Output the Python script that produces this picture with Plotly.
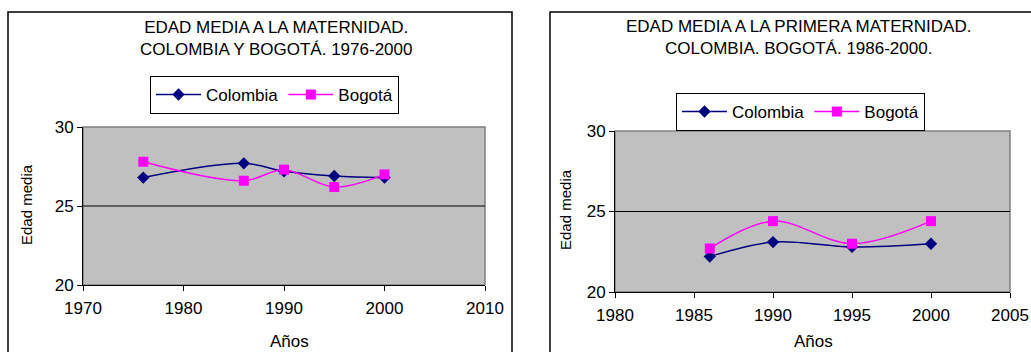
import plotly.graph_objects as go

# Chart 1: mean age at maternity, 1976-2000
years_1 = [1976, 1986, 1990, 1995, 2000]
colombia_1 = [26.8, 27.7, 27.2, 26.9, 26.8]
bogota_1 = [27.8, 26.6, 27.3, 26.2, 27.0]

# Chart 2: mean age at first maternity, 1986-2000
years_2 = [1986, 1990, 1995, 2000]
colombia_2 = [22.2, 23.1, 22.8, 23.0]
bogota_2 = [22.7, 24.4, 23.0, 24.4]

title_1 = "EDAD MEDIA A LA MATERNIDAD.<br>COLOMBIA Y BOGOTÁ. 1976-2000"
title_2 = "EDAD MEDIA A LA PRIMERA MATERNIDAD.<br>COLOMBIA. BOGOTÁ. 1986-2000."

W, H = 1031, 352
FONT = "Arial, Liberation Sans, sans-serif"
NAVY = "#000080"
MAGENTA = "#FF00FF"


def px(x):
    return x / W


def py(y):
    return 1 - y / H


fig = go.Figure()


def add_series(x, y, name, color, symbol, size, xa, ya, legend):
    fig.add_trace(go.Scatter(
        x=x, y=y, name=name, mode="lines+markers",
        line=dict(color=color, width=1.5, shape="spline", smoothing=1),
        marker=dict(symbol=symbol, size=size, color=color),
        xaxis=xa, yaxis=ya, legend=legend,
    ))


add_series(years_1, colombia_1, "Colombia", NAVY, "diamond", 9.5, "x", "y", "legend")
add_series(years_1, bogota_1, "Bogotá", MAGENTA, "square", 10, "x", "y", "legend")
add_series(years_2, colombia_2, "Colombia", NAVY, "diamond", 9.5, "x2", "y2", "legend2")
add_series(years_2, bogota_2, "Bogotá", MAGENTA, "square", 10, "x2", "y2", "legend2")

xcommon = dict(showgrid=False, zeroline=False, showline=True, linecolor="black",
               linewidth=1, ticks="outside", ticklen=5, tickcolor="black",
               tickfont=dict(family=FONT, size=17, color="black"),
               ticklabelstandoff=3, automargin=False)
ycommon = dict(showgrid=False, zeroline=False, showline=True, linecolor="black",
               linewidth=1, ticks="outside", ticklen=5, tickcolor="black",
               tickfont=dict(family=FONT, size=17, color="black"),
               range=[20, 30], tickvals=[20, 25, 30], automargin=False)

legend_common = dict(orientation="h", xanchor="left", yanchor="top",
                     bgcolor="white", bordercolor="black", borderwidth=1,
                     font=dict(family=FONT, size=17, color="black"),
                     itemwidth=45, tracegroupgap=0)

fig.update_layout(
    template="none",
    width=W, height=H, margin=dict(l=0, r=0, t=0, b=0, pad=0, autoexpand=False),
    paper_bgcolor="white", plot_bgcolor="#C0C0C0",
    font=dict(family=FONT, color="black"),
    xaxis=dict(domain=[px(83), px(485)], range=[1970, 2010], tickvals=[1970, 1980, 1990, 2000, 2010],
               anchor="y", **xcommon),
    yaxis=dict(domain=[py(285), py(127)], anchor="x", **ycommon),
    xaxis2=dict(domain=[px(615), px(1010)], range=[1980, 2005], tickvals=[1980, 1985, 1990, 1995, 2000, 2005],
                anchor="y2", **xcommon),
    yaxis2=dict(domain=[py(292), py(131)], anchor="x2", **ycommon),
    legend=dict(x=px(150), y=py(76), **legend_common),
    legend2=dict(x=px(676), y=py(93), **legend_common),
)

shapes = []
# outer chart frames
for x0, x1 in [(8, 512), (550, 1045)]:
    shapes.append(dict(type="rect", xref="paper", yref="paper",
                       x0=px(x0), x1=px(x1), y0=py(370), y1=py(12),
                       line=dict(color="black", width=1.5), layer="below"))
# plot area borders and the 25 gridline
for xa, ya in [("x", "y"), ("x2", "y2")]:
    shapes.append(dict(type="rect", xref=f"{xa} domain", yref=f"{ya} domain",
                       x0=0, x1=1, y0=0, y1=1,
                       line=dict(color="#808080", width=1.5), layer="below"))
    shapes.append(dict(type="line", xref=f"{xa} domain", yref=ya,
                       x0=0, x1=1, y0=25, y1=25,
                       line=dict(color="black", width=1), layer="below"))
fig.update_layout(shapes=shapes)

ann = []
for text, x, y in [(title_1, 276, 38.5), (title_2, 798, 37)]:
    ann.append(dict(text=text, xref="paper", yref="paper", x=px(x), y=py(y),
                    xanchor="center", yanchor="middle", showarrow=False,
                    font=dict(family=FONT, size=17, color="black")))
for x, y in [(289, 341), (813, 341)]:
    ann.append(dict(text="Años", xref="paper", yref="paper", x=px(x), y=py(y),
                    xanchor="center", yanchor="middle", showarrow=False,
                    font=dict(family=FONT, size=17, color="black")))
for x, y in [(26, 205), (565, 210)]:
    ann.append(dict(text="Edad media", xref="paper", yref="paper", x=px(x), y=py(y),
                    xanchor="center", yanchor="middle", showarrow=False, textangle=-90,
                    font=dict(family=FONT, size=15, color="black")))
fig.update_layout(annotations=ann)

fig.write_html("out.html")
